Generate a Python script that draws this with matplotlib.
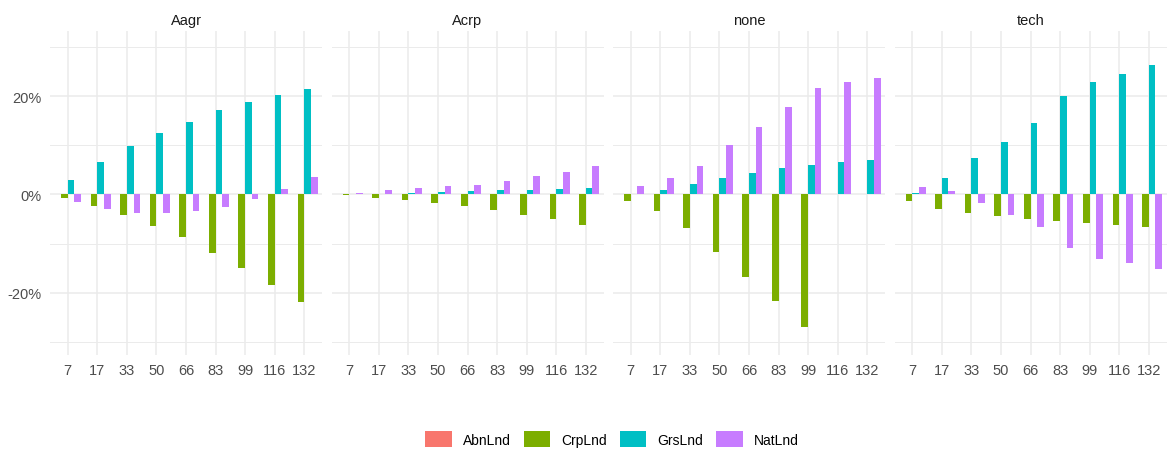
import matplotlib
matplotlib.use("Agg")
import matplotlib.pyplot as plt
from matplotlib.ticker import FixedLocator, FuncFormatter
import numpy as np

plt.rcParams['font.family'] = ['Liberation Sans', 'DejaVu Sans']

categories = ['7', '17', '33', '50', '66', '83', '99', '116', '132']
facets = ['Aagr', 'Acrp', 'none', 'tech']
series = ['AbnLnd', 'CrpLnd', 'GrsLnd', 'NatLnd']
colors = ['#F8766D', '#7CAE00', '#00BFC4', '#C77CFF']

# values in percent
Aagr_AbnLnd = [0, 0, 0, 0, 0, 0, 0, 0, 0]
Aagr_CrpLnd = [-0.8, -2.4, -4.1, -6.5, -8.7, -12.0, -15.0, -18.5, -21.9]
Aagr_GrsLnd = [2.9, 6.6, 9.8, 12.6, 14.7, 17.3, 18.9, 20.3, 21.5]
Aagr_NatLnd = [-1.5, -2.9, -3.7, -3.7, -3.3, -2.6, -1.0, 1.2, 3.5]

Acrp_AbnLnd = [0, 0, 0, 0, 0, 0, 0, 0, 0]
Acrp_CrpLnd = [-0.2, -0.7, -1.2, -1.8, -2.4, -3.2, -4.1, -5.0, -6.3]
Acrp_GrsLnd = [0.05, 0.1, 0.35, 0.55, 0.8, 0.95, 0.95, 1.15, 1.3]
Acrp_NatLnd = [0.4, 0.95, 1.3, 1.8, 2.0, 2.8, 3.7, 4.6, 5.7]

none_AbnLnd = [0, 0, 0, 0, 0, 0, 0, 0, 0]
none_CrpLnd = [-1.4, -3.3, -6.8, -11.8, -16.8, -21.8, -27.0, 0, 0]
none_GrsLnd = [0.1, 1.0, 2.2, 3.3, 4.4, 5.3, 6.1, 6.6, 7.1]
none_NatLnd = [1.8, 3.3, 5.9, 10.1, 13.7, 17.8, 21.6, 23.0, 23.8]

tech_AbnLnd = [0, 0, 0, 0, 0, 0, 0, 0, 0]
tech_CrpLnd = [-1.4, -2.9, -3.8, -4.3, -5.0, -5.5, -5.9, -6.3, -6.7]
tech_GrsLnd = [0.3, 3.3, 7.4, 10.6, 14.5, 20.0, 22.9, 24.5, 26.3]
tech_NatLnd = [1.6, 0.8, -1.8, -4.1, -6.7, -10.9, -13.1, -14.0, -15.1]

data = {
    'Aagr': [Aagr_AbnLnd, Aagr_CrpLnd, Aagr_GrsLnd, Aagr_NatLnd],
    'Acrp': [Acrp_AbnLnd, Acrp_CrpLnd, Acrp_GrsLnd, Acrp_NatLnd],
    'none': [none_AbnLnd, none_CrpLnd, none_GrsLnd, none_NatLnd],
    'tech': [tech_AbnLnd, tech_CrpLnd, tech_GrsLnd, tech_NatLnd],
}

W, H = 1167, 452
fig = plt.figure(figsize=(W / 100, H / 100), dpi=100)

panel_top = 32
panel_bot = 356
panel_w = 272
lefts = [50, 331.5, 613, 894.5]

grid_col = '#EBEBEB'
x = np.arange(len(categories))
n = len(series)
bw = 0.9 / n

handles = []
for i, f in enumerate(facets):
    ax = fig.add_axes([lefts[i] / W, 1 - panel_bot / H, panel_w / W, (panel_bot - panel_top) / H])
    for s in range(n):
        offs = (s - (n - 1) / 2) * bw
        b = ax.bar(x + offs, data[f][s], width=bw, color=colors[s], linewidth=0, zorder=3,
                   label=series[s])
        if i == 0:
            handles.append(b)
    ax.set_xlim(-0.6, len(categories) - 0.4)
    ax.set_ylim(-32.7, 33.3)
    ax.yaxis.set_major_locator(FixedLocator([-20, 0, 20]))
    ax.yaxis.set_minor_locator(FixedLocator([-30, -10, 10, 30]))
    ax.yaxis.set_major_formatter(FuncFormatter(lambda v, p: f"{v:.0f}%"))
    ax.set_xticks(x)
    ax.set_xticklabels(categories)
    ax.grid(True, which='major', color=grid_col, linewidth=1.1, zorder=0)
    ax.grid(True, which='minor', axis='y', color=grid_col, linewidth=0.7, zorder=0)
    ax.set_axisbelow(True)
    for sp in ax.spines.values():
        sp.set_visible(False)
    ax.tick_params(axis='both', which='both', length=0, labelsize=10.5, colors='#4D4D4D')
    ax.tick_params(axis='x', pad=6)
    ax.tick_params(axis='y', pad=6)
    if i > 0:
        ax.tick_params(axis='y', labelleft=False)
    ax.set_title(f, fontsize=10.5, color='#1A1A1A', pad=5)

leg = fig.legend(handles, series, loc='center', bbox_to_anchor=(612 / W, 1 - 440 / H),
                 ncol=4, frameon=False, fontsize=10, handlelength=1.9, handleheight=1.4,
                 handletextpad=0.8, columnspacing=0.95)
for t in leg.get_texts():
    t.set_color('#000000')

fig.savefig('out.png', dpi=100, facecolor='white')
